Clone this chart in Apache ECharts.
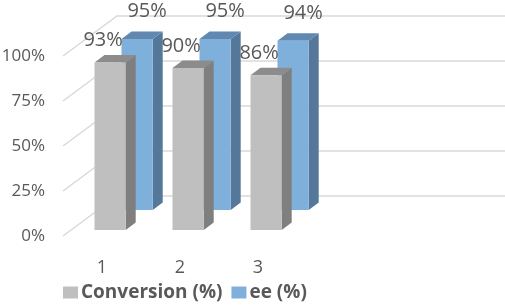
<!DOCTYPE html>
<html>
<head>
<meta charset="utf-8">
<script src="https://cdn.jsdelivr.net/npm/echarts@6/dist/echarts.min.js"></script>
<style>
html,body{margin:0;padding:0;background:#fff;}
#chart{width:505px;height:305px;}
</style>
</head>
<body>
<div id="chart"></div>
<script>
var categories = ['1', '2', '3'];
var conversion = [0.93, 0.90, 0.86];
var ee = [0.95, 0.95, 0.94];
var ticks = [0, 0.25, 0.5, 0.75, 1];

var FONT = '"Open Sans", "Liberation Sans", sans-serif';
var TEXT = '#595959';
// full depth of the 3d box (front plane -> back wall), px
var DEPTH_X = 54, DEPTH_Y = 40;
// depth of one bar
var BAR_DX = 10, BAR_DY = 7.5;

function bar3d(colors, depthFrac, labelDx, labelDy) {
	return function (params, api) {
		var idx = api.value(0);
		var val = api.value(1);
		var base = api.coord([idx, 0]);
		var top = api.coord([idx, val]);
		var w = api.size([1, 0])[0] * 0.4;
		var ox = DEPTH_X * depthFrac, oy = DEPTH_Y * depthFrac;
		var x0 = base[0] + ox - w / 2, x1 = x0 + w;
		var yb = base[1] - oy, yt = top[1] - oy;
		return {
			type: 'group',
			children: [
				{ type: 'polygon', shape: { points: [[x1, yt], [x1 + BAR_DX, yt - BAR_DY], [x1 + BAR_DX, yb - BAR_DY], [x1, yb]] },
					style: { fill: colors[1] } },
				{ type: 'polygon', shape: { points: [[x0, yt], [x0 + BAR_DX, yt - BAR_DY], [x1 + BAR_DX, yt - BAR_DY], [x1, yt]] },
					style: { fill: colors[2] } },
				{ type: 'rect', shape: { x: x0, y: yt, width: w, height: yb - yt },
					style: { fill: colors[0] } },
				{ type: 'text', z2: 10, style: { text: Math.round(val * 100) + '%', x: x0 + w / 2 + labelDx, y: yt + labelDy,
					fill: TEXT, font: '20px ' + FONT, align: 'center', verticalAlign: 'middle',
					textAlign: 'center', textVerticalAlign: 'middle' } }
			]
		};
	};
}

var chart = echarts.init(document.getElementById('chart'));
var option = {
	animation: false,
	grid: { left: 63, right: 208, top: 56, bottom: 69, outerBoundsMode: 'none', containLabel: false },
	legend: {
		data: ['Conversion (%)', 'ee (%)'],
		left: 58, top: 278,
		icon: 'rect', itemWidth: 15, itemHeight: 12, itemGap: 9,
		textStyle: { color: TEXT, fontSize: 19, fontWeight: 'bold', fontFamily: FONT, padding: [0, 0, 0, -2] }
	},
	xAxis: {
		type: 'category',
		data: categories,
		axisLine: { show: false }, axisTick: { show: false },
		axisLabel: { color: TEXT, fontSize: 18, fontFamily: FONT, margin: 23 }
	},
	yAxis: {
		type: 'value', min: 0, max: 1, interval: 0.25,
		axisLine: { show: false }, axisTick: { show: false }, splitLine: { show: false },
		axisLabel: { color: TEXT, fontSize: 17, fontFamily: FONT, margin: 18,
			formatter: function (v) { return Math.round(v * 100) + '%'; } }
	},
	series: [
		{
			type: 'custom', name: 'grid', z: 1, clip: false, silent: true,
			data: ticks.map(function (t) { return [0, t]; }),
			renderItem: function (params, api) {
				var p = api.coord([0, api.value(1)]);
				var left = params.coordSys.x;
				return { type: 'polyline',
					shape: { points: [[left, p[1]], [left + DEPTH_X, p[1] - DEPTH_Y], [api.getWidth(), p[1] - DEPTH_Y]] },
					style: { stroke: '#d9d9d9', lineWidth: 1.5, fill: null } };
			}
		},
		{
			type: 'custom', name: 'ee (%)', z: 2, clip: false,
			itemStyle: { color: '#7fb0dc' },
			data: ee.map(function (v, i) { return [i, v]; }),
			renderItem: bar3d(['#7fb0dc', '#557799', '#6088b0'], 26 / 40, 10, -28)
		},
		{
			type: 'custom', name: 'Conversion (%)', z: 3, clip: false,
			itemStyle: { color: '#bfbfbf' },
			data: conversion.map(function (v, i) { return [i, v]; }),
			renderItem: bar3d(['#bfbfbf', '#7f7f7f', '#8c8c8c'], 6 / 40, -7, -22)
		}
	]
};
chart.setOption(option);
</script>
</body>
</html>
